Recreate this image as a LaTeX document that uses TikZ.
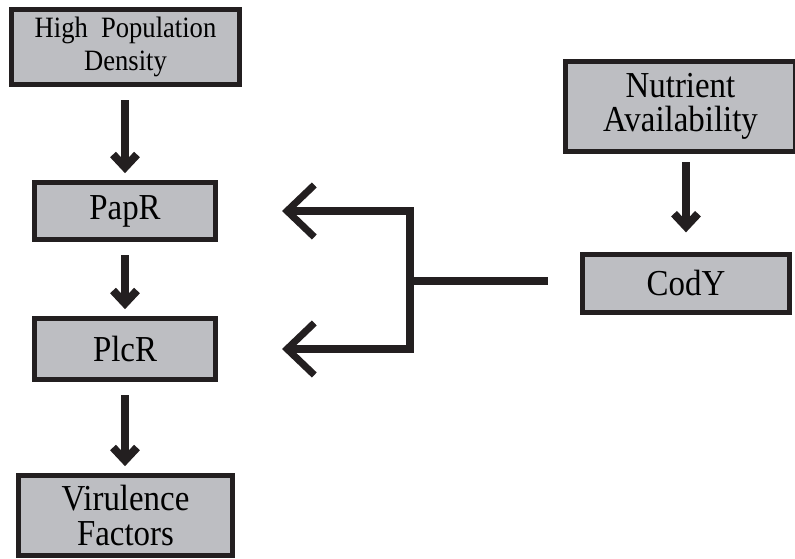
\documentclass[tikz,border=0pt]{standalone}
\usepackage{fontspec}
\setmainfont{Liberation Serif}[FakeStretch=0.9]
\usepackage{tikz}
\usetikzlibrary{arrows.meta, positioning}
\usepackage{xcolor}
\definecolor{boxfill}{RGB}{189,190,194}
\definecolor{boxline}{RGB}{35,31,32}

\tikzset{
	box/.style={draw=boxline, fill=boxfill, line width=3.6pt, inner sep=0pt, align=center, font=\fontsize{26}{25}\selectfont},
	flow/.style={draw=boxline, line width=5.7pt, shorten <=0.33cm, shorten >=0.17cm, -{Straight Barb[length=0.32cm, width=0.6cm]}},
	feedback/.style={draw=boxline, line width=5pt, line join=miter, {Straight Barb[length=0.68cm, width=1.3cm]}-{Straight Barb[length=0.68cm, width=1.3cm]}}
}

\begin{document}
\begin{tikzpicture}
				\useasboundingbox (0,0) rectangle (19.875,13.975);
				% left column
				\node[box, minimum width=5.7cm, minimum height=1.875cm, font=\fontsize{21}{23}\selectfont] (density) at (3.1375,12.8) {High~~Population\\Density};
				\node[box, minimum width=4.525cm, minimum height=1.425cm] (papr) at (3.125,8.7) {PapR};
				\node[box, minimum width=4.525cm, minimum height=1.525cm] (plcr) at (3.125,5.25) {PlcR};
				\node[box, minimum width=5.35cm, minimum height=2cm] (virulence) at (3.1375,1.0875) {Virulence\\Factors};
				% right column
				\node[box, minimum width=5.75cm, minimum height=2.25cm, font=\fontsize{26}{24}\selectfont] (nutrient) at (17.0125,11.3125) {Nutrient\\Availability};
				\node[box, minimum width=5.175cm, minimum height=1.45cm] (cody) at (17.15,6.8875) {CodY};
				\coordinate (junction) at (10.25,6.95);
				\draw[flow] (density.south -| papr.north) -- (papr.north);
				\draw[flow] (papr) -- (plcr);
				\draw[flow] (plcr.south) -- (virulence.north -| plcr.south);
				\draw[flow, shorten <=0.21cm, shorten >=0.49cm] (nutrient.south -| cody.north) -- (cody.north);
				% CodY acts back on both
				\draw[draw=boxline, line width=5pt] ([xshift=-0.8cm]cody.west |- junction) -- (junction);
				\draw[feedback] ([xshift=1.6cm]papr.east) -- (junction |- papr.east) -- (junction |- plcr.east) -- ([xshift=1.6cm]plcr.east);
			\end{tikzpicture}
\end{document}
